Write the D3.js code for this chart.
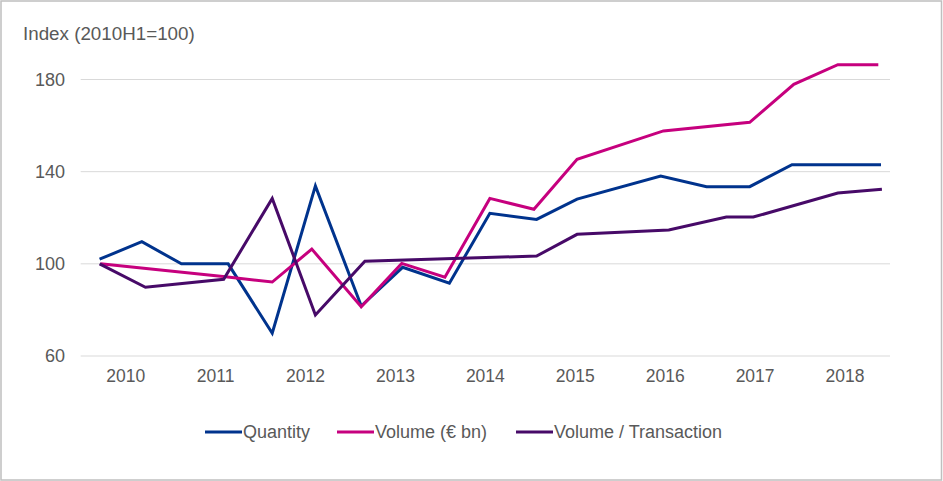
<html>
<head>
    <meta charset="UTF-8" />
    <script src="https://d3js.org/d3.v7.min.js"></script>
    <style>
        body { margin: 0; background: white; }
        text { font-family: "Liberation Sans", Arial, sans-serif; fill: #595959; }
        .grid line { stroke: #d9d9d9; stroke-width: 1px; }
        .series { fill: none; stroke-width: 3px; stroke-linejoin: miter; }
    </style>
</head>
<body>
<svg id="chart" width="943" height="481"></svg>
<script>
    // data (x in fractional years, y = index 2010H1=100)
    const yearLabels = ["2010", "2011", "2012", "2013", "2014", "2015", "2016", "2017", "2018"];
    const yTicks = [60, 100, 140, 180];

    const quantityX = [2010.21, 2010.68, 2011.12, 2011.64, 2012.13, 2012.61, 2013.12, 2013.58, 2014.10,
                       2014.55, 2015.07, 2015.52, 2016.45, 2016.96, 2017.44, 2017.91, 2018.90];
    const quantityY = [102, 109.6, 100, 100, 69.9, 133.8, 81.7, 98.5, 91.6,
                       121.9, 119.3, 128.1, 138.1, 133.5, 133.5, 143, 143];

    const volumeX = [2010.22, 2011.61, 2012.13, 2012.57, 2013.12, 2013.57, 2014.05, 2014.55, 2015.04,
                     2015.52, 2016.48, 2017.44, 2017.93, 2018.42, 2018.87];
    const volumeY = [100, 94.4, 92.1, 106.4, 81.4, 100.2, 94.2, 128.4, 123.7,
                     145.4, 157.7, 161.4, 177.9, 186.4, 186.4];

    const perTxX = [2010.21, 2010.72, 2011.59, 2012.13, 2012.61, 2013.16, 2015.07, 2015.52, 2016.54,
                    2017.18, 2017.48, 2018.42, 2018.91];
    const perTxY = [100, 89.8, 93.3, 128.4, 77.8, 101.1, 103.4, 112.8, 114.7,
                    120.3, 120.3, 130.7, 132.4];

    const seriesNames = ["Quantity", "Volume (€ bn)", "Volume / Transaction"];
    const seriesColors = ["#00338D", "#C6007E", "#470A68"];

    const svg = d3.select("#chart");
    const margin = { left: 80.7, right: 53, top: 79.5, bottom: 125 };
    const W = +svg.attr("width"), H = +svg.attr("height");

    // outer frame
    svg.append("rect")
        .attr("x", 1).attr("y", 1)
        .attr("width", W - 2.5).attr("height", H - 2)
        .attr("fill", "white")
        .attr("stroke", "#bfbfbf")
        .attr("stroke-width", 1.5);

    const x = d3.scaleLinear().domain([2010, 2019]).range([margin.left, W - margin.right]);
    const y = d3.scaleLinear().domain([60, 180]).range([356, 79.5]);

    // gridlines
    svg.append("g").attr("class", "grid")
        .selectAll("line").data(yTicks)
        .join("line")
        .attr("x1", x(2010)).attr("x2", x(2019))
        .attr("y1", d => y(d)).attr("y2", d => y(d));

    // y labels
    svg.append("g").selectAll("text").data(yTicks)
        .join("text")
        .attr("x", 65)
        .attr("y", d => y(d))
        .attr("dy", "0.35em")
        .attr("text-anchor", "end")
        .style("font-size", "18px")
        .text(d => d);

    // x labels, mid-year
    svg.append("g").selectAll("text").data(yearLabels)
        .join("text")
        .attr("x", d => x(+d + 0.5))
        .attr("y", 376)
        .attr("dy", "0.35em")
        .attr("text-anchor", "middle")
        .style("font-size", "17.5px")
        .text(d => d);

    svg.append("text")
        .attr("x", 23).attr("y", 33)
        .attr("dy", "0.35em")
        .style("font-size", "18.8px")
        .text("Index (2010H1=100)");

    const seriesData = [
        d3.zip(quantityX, quantityY),
        d3.zip(volumeX, volumeY),
        d3.zip(perTxX, perTxY)
    ];

    const line = d3.line().x(d => x(d[0])).y(d => y(d[1]));

    // draw in order so purple sits on top like the original
    svg.append("g").selectAll("path").data(seriesData)
        .join("path")
        .attr("class", "series")
        .attr("stroke", (d, i) => seriesColors[i])
        .attr("d", line);

    // legend
    const legendX = [205, 337, 516];
    const legend = svg.append("g").selectAll("g").data(seriesNames)
        .join("g")
        .attr("transform", (d, i) => "translate(" + legendX[i] + ",432)");
    legend.append("line")
        .attr("x1", 0).attr("x2", 37)
        .attr("stroke", (d, i) => seriesColors[i])
        .attr("stroke-width", 3);
    legend.append("text")
        .attr("x", 38)
        .attr("dy", "0.35em")
        .style("font-size", "18px")
        .text(d => d);
</script>
</body>
</html>
